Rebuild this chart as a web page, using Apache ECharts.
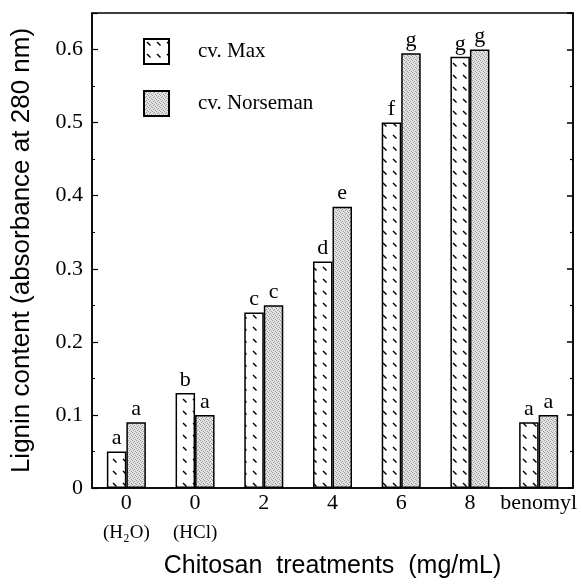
<!DOCTYPE html>
<html>
<head>
<meta charset="UTF-8">
<title>Lignin content</title>
<script src="https://cdn.jsdelivr.net/npm/echarts@6/dist/echarts.min.js"></script>
<style>
    html, body { margin: 0; padding: 0; background: #fff; }
    #chart { width: 583px; height: 584px; }
</style>
</head>
<body>
<div id="chart"></div>
<script>
    // data
    var categories = ['0', '0', '2', '4', '6', '8', 'benomyl'];
    var subLabels = ['(H₂O)', '(HCl)', '', '', '', '', ''];
    var maxValues = [0.05, 0.13, 0.24, 0.31, 0.50, 0.59, 0.09];
    var norsemanValues = [0.09, 0.10, 0.25, 0.385, 0.595, 0.60, 0.10];
    var maxLetters = ['a', 'b', 'c', 'd', 'f', 'g', 'a'];
    var norsemanLetters = ['a', 'a', 'c', 'e', 'g', 'g', 'a'];
    var yTicks = [0, 0.1, 0.2, 0.3, 0.4, 0.5, 0.6];

    var serif = '"Liberation Serif", "DejaVu Serif", serif';
    var sans = '"Liberation Sans", Arial, sans-serif';

    // white fill with short dashes (cv. Max)
    function dashPattern() {
        var c = document.createElement('canvas');
        c.width = 10; c.height = 12;
        var ctx = c.getContext('2d');
        ctx.fillStyle = '#fff';
        ctx.fillRect(0, 0, 10, 12);
        ctx.strokeStyle = '#000';
        ctx.lineWidth = 1.4;
        ctx.beginPath();
        ctx.moveTo(3, 3);
        ctx.lineTo(6.5, 6.5);
        ctx.stroke();
        return c;
    }

    // grey stipple (cv. Norseman)
    function stipplePattern() {
        var c = document.createElement('canvas');
        c.width = 4; c.height = 4;
        var ctx = c.getContext('2d');
        ctx.fillStyle = '#e2e2e2';
        ctx.fillRect(0, 0, 4, 4);
        ctx.fillStyle = '#9a9a9a';
        var dots = [[0, 0], [2, 1], [1, 2], [3, 3]];
        dots.forEach(function (d) { ctx.fillRect(d[0], d[1], 1, 1); });
        return c;
    }

    var chart = echarts.init(document.getElementById('chart'));

    function valueAxis(pos) {
        return {
            type: 'value',
            show: true,
            position: pos,
            min: 0,
            max: 0.65,
            interval: 0.1,
            axisLine: { show: true, onZero: false, lineStyle: { color: '#000', width: 1.5 } },
            axisTick: { show: true, inside: true, length: 6, lineStyle: { color: '#000', width: 1.2 } },
            minorTick: { show: true, splitNumber: 2, length: 3, lineStyle: { color: '#000', width: 1 } },
            splitLine: { show: false }
        };
    }

    var leftAxis = valueAxis('left');
    leftAxis.axisLabel = {
        margin: 9,
        color: '#000',
        fontFamily: serif,
        fontSize: 22,
        showMaxLabel: false,
        formatter: function (v) {
            var r = Math.round(v * 10) / 10;
            return yTicks.indexOf(r) >= 0 && Math.abs(v - r) < 1e-6 ? String(r) : '';
        }
    };
    leftAxis.name = 'Lignin content (absorbance at 280 nm)';
    leftAxis.nameLocation = 'middle';
    leftAxis.nameGap = 57;
    leftAxis.nameTextStyle = { fontFamily: sans, fontSize: 26, color: '#000' };

    // right side: ticks only
    var rightAxis = valueAxis('right');
    rightAxis.axisTick = { show: true, inside: true, length: 6, lineStyle: { color: '#000', width: 1.5 } };
    rightAxis.minorTick = { show: true, splitNumber: 2, length: 3, lineStyle: { color: '#000', width: 1.2 } };
    rightAxis.axisLabel = { show: true, inside: true, color: 'rgba(0,0,0,0)', fontSize: 10 };

    var option = {
        animation: false,
        backgroundColor: '#fff',
        grid: { left: 92, right: 10, top: 13, bottom: 92, show: true, borderColor: '#000', borderWidth: 1.5 },
        legend: {
            orient: 'vertical',
            left: 138,
            top: 33,
            icon: 'rect',
            itemWidth: 25,
            itemHeight: 25,
            itemGap: 25,
            textStyle: { fontFamily: serif, fontSize: 21, color: '#000', padding: [0, 0, 0, 24] },
            data: ['cv. Max', 'cv. Norseman']
        },
        xAxis: [{
            type: 'category',
            data: categories,
            axisLine: { onZero: false, lineStyle: { color: '#000', width: 1.5 } },
            axisTick: { show: false },
            axisLabel: {
                interval: 0,
                margin: 3,
                color: '#000',
                fontFamily: serif,
                formatter: function (v, i) {
                    var s = subLabels[i] ? '\n{s|' + subLabels[i] + '}' : '';
                    return '{n|' + v + '}' + s;
                },
                rich: {
                    n: { fontFamily: serif, fontSize: 22, lineHeight: 24, color: '#000' },
                    s: { fontFamily: serif, fontSize: 19, lineHeight: 36, color: '#000' }
                }
            },
            name: 'Chitosan  treatments  (mg/mL)',
            nameLocation: 'middle',
            nameGap: 66,
            nameTextStyle: { fontFamily: sans, fontSize: 25, color: '#000' }
        }],
        yAxis: [leftAxis, rightAxis],
        series: [{
            name: 'cv. Max',
            type: 'bar',
            yAxisIndex: 0,
            data: maxValues,
            barWidth: 19.5,
            barGap: '0%',
            itemStyle: {
                color: { image: dashPattern(), repeat: 'repeat' },
                borderColor: '#000',
                borderWidth: 1.5
            },
            label: {
                show: true,
                position: 'top',
                distance: 2,
                color: '#000',
                fontFamily: serif,
                fontSize: 22,
                formatter: function (p) { return maxLetters[p.dataIndex]; }
            }
        }, {
            name: 'cv. Norseman',
            type: 'bar',
            yAxisIndex: 1,
            data: norsemanValues,
            barWidth: 19.5,
            barGap: '0%',
            itemStyle: {
                color: { image: stipplePattern(), repeat: 'repeat' },
                borderColor: '#000',
                borderWidth: 1.5
            },
            label: {
                show: true,
                position: 'top',
                distance: 2,
                color: '#000',
                fontFamily: serif,
                fontSize: 22,
                formatter: function (p) { return norsemanLetters[p.dataIndex]; }
            }
        }]
    };

    chart.setOption(option);
    window.onresize = function () {
        chart.resize();
    };
</script>
</body>
</html>
